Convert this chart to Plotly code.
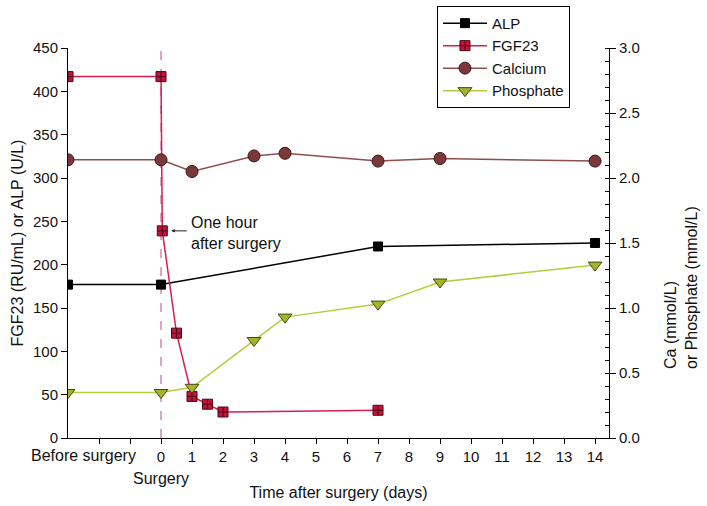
import plotly.graph_objects as go

# ---------------- data ----------------
BEFORE = -3          # position of the "Before surgery" measurement on the day axis
ONE_HOUR = 1 / 24    # one hour after surgery, in days

alp_days = [BEFORE, 0, 7, 14]
alp_vals = [177, 177, 221, 225]

fgf_days = [BEFORE, 0, ONE_HOUR, 0.5, 1, 1.5, 2, 7]
fgf_vals = [417, 417, 239, 121, 48, 39, 30, 32]

ca_days = [BEFORE, 0, 1, 3, 4, 7, 9, 14]
ca_vals = [2.14, 2.14, 2.05, 2.17, 2.19, 2.13, 2.15, 2.13]

pho_days = [BEFORE, 0, 1, 3, 4, 7, 9, 14]
pho_vals = [0.35, 0.35, 0.39, 0.75, 0.93, 1.03, 1.20, 1.33]

x_tickvals = [-2, -1] + list(range(0, 15))
x_ticktext = ["", ""] + [str(d) for d in range(0, 15)]
left_ticks = list(range(0, 451, 50))
right_ticks = [0.0, 0.5, 1.0, 1.5, 2.0, 2.5, 3.0]

FONT = "Liberation Sans, Arial, sans-serif"

fig = go.Figure()

fig.add_trace(go.Scatter(
    x=alp_days, y=alp_vals, name="ALP", mode="lines+markers",
    line=dict(color="#000000", width=1.5),
    marker=dict(symbol="square", size=9, color="#000000",
                line=dict(color="#000000", width=1)),
))
fig.add_trace(go.Scatter(
    x=fgf_days, y=fgf_vals, name="FGF23", mode="lines+markers",
    line=dict(color="#D81E50", width=1.5),
    marker=dict(symbol="square-cross", size=10, color="#C4123A",
                line=dict(color="#4a0812", width=1)),
))
fig.add_trace(go.Scatter(
    x=ca_days, y=ca_vals, name="Calcium", mode="lines+markers", yaxis="y2",
    line=dict(color="#8E4E4E", width=1.5),
    marker=dict(symbol="circle", size=12, color="#7A3838",
                line=dict(color="#3a1616", width=1)),
))
fig.add_trace(go.Scatter(
    x=pho_days, y=pho_vals, name="Phosphate", mode="lines+markers", yaxis="y2",
    line=dict(color="#B6CC3A", width=1.5),
    marker=dict(symbol="triangle-down", size=12, color="#A4B42A",
                line=dict(color="#44480c", width=1)),
))

fig.add_vline(x=0, line=dict(color="#CC66AA", width=1.2, dash="dash"), layer="below")

fig.update_layout(
    width=707, height=506, autosize=False,
    margin=dict(l=68, r=98, t=48, b=68, autoexpand=False),
    plot_bgcolor="white", paper_bgcolor="white",
    font=dict(family=FONT, size=15, color="#111111"),
    showlegend=True,
    legend=dict(x=0.682, y=1.108, xanchor="left", yanchor="top",
                bordercolor="#000000", borderwidth=1, bgcolor="white",
                font=dict(size=15), itemwidth=44, tracegroupgap=0),
    xaxis=dict(range=[BEFORE, 14.45], showline=True, linecolor="black", linewidth=1,
               showgrid=False, zeroline=False, ticks="outside", ticklen=5,
               tickcolor="black", tickvals=x_tickvals, ticktext=x_ticktext,
               tickfont=dict(size=15), automargin=False,
               title=dict(text="Time after surgery (days)", font=dict(size=16), standoff=22)),
    yaxis=dict(range=[0, 450], showline=True, linecolor="black", linewidth=1,
               showgrid=False, zeroline=False, ticks="outside", ticklen=6,
               tickcolor="black", tickvals=left_ticks, tickfont=dict(size=15),
               automargin=False,
               title=dict(text="FGF23 (RU/mL) or ALP (U/L)", font=dict(size=16), standoff=5)),
    yaxis2=dict(range=[0, 3], overlaying="y", side="right", showline=True,
                linecolor="black", linewidth=1, showgrid=False, zeroline=False,
                ticks="outside", ticklen=6, tickcolor="black", tickvals=right_ticks,
                tickformat=".1f", tickfont=dict(size=15), automargin=False,
                minor=dict(dtick=0.1, ticks="inside", ticklen=4, tickcolor="black",
                           showgrid=False)),
)

# right axis title (two left-aligned rotated lines)
fig.add_annotation(text="Ca (mmol/L)<br>or Phosphate (mmol/L)", xref="paper", yref="paper",
                   x=1.133, y=0.387, textangle=-90, align="left", showarrow=False,
                   font=dict(size=16), xanchor="center", yanchor="middle")

# category labels under the day axis
fig.add_annotation(text="Before surgery", xref="x", yref="paper", x=-0.74, y=0,
                   xanchor="right", yanchor="middle", yshift=-17, showarrow=False,
                   font=dict(size=16))
fig.add_annotation(text="Surgery", xref="x", yref="paper", x=0, y=0,
                   xanchor="center", yanchor="middle", yshift=-40, showarrow=False,
                   font=dict(size=16))

# one-hour note
fig.add_annotation(text="", x=ONE_HOUR, y=239, xref="x", yref="y", showarrow=True,
                   ax=26, ay=0, arrowhead=2, arrowsize=0.7, arrowwidth=1,
                   arrowcolor="#222222", standoff=9)
fig.add_annotation(text="One hour<br>after surgery", x=ONE_HOUR, y=239, xref="x", yref="y",
                   xanchor="left", yanchor="middle", align="left", xshift=27, yshift=-2,
                   showarrow=False, font=dict(size=16))

fig.write_html("out.html", config={"displayModeBar": False},
               post_script="document.body.style.margin='0';")
